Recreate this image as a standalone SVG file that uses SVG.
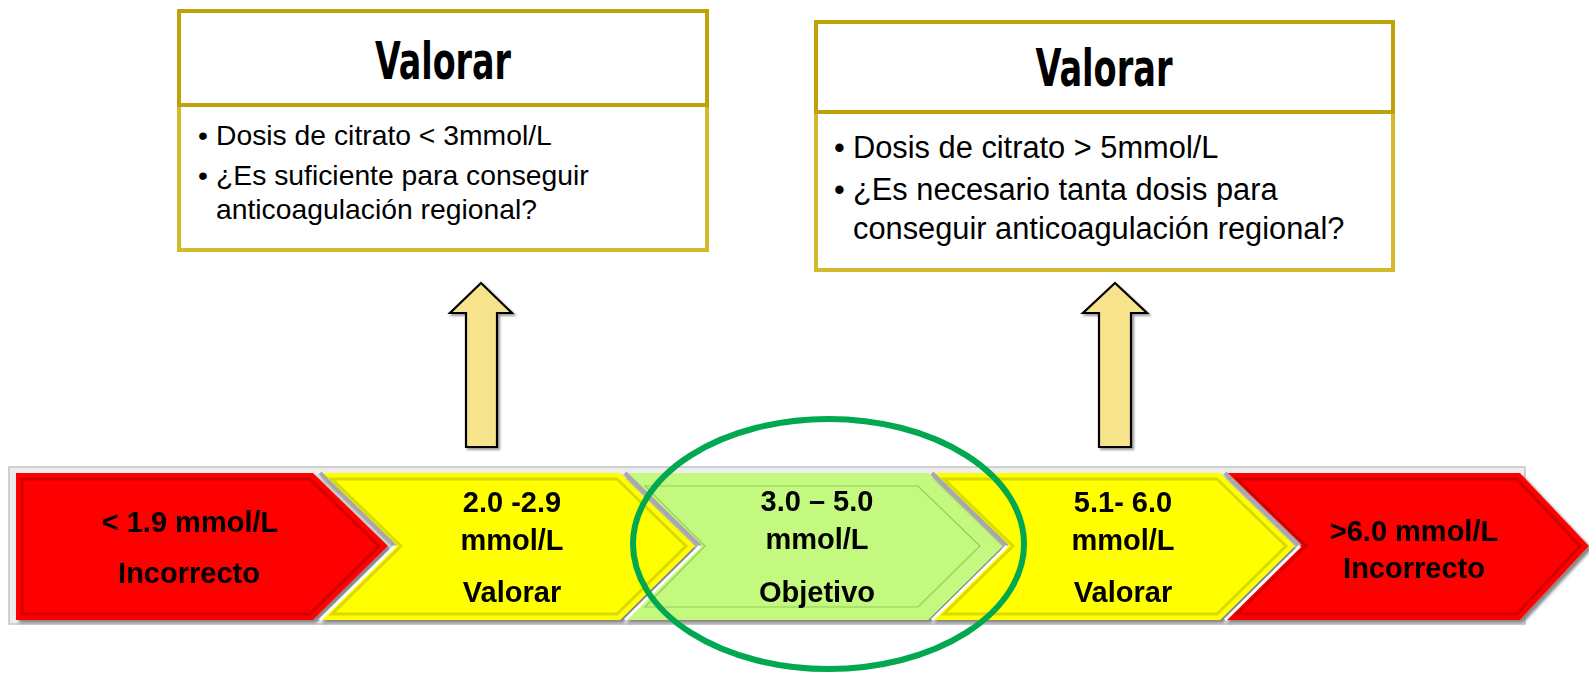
<svg xmlns="http://www.w3.org/2000/svg" width="1589" height="675" viewBox="0 0 1589 675">
<defs>
<filter id="sh" x="-5%" y="-10%" width="115%" height="125%">
<feDropShadow dx="3" dy="3" stdDeviation="1.5" flood-color="#7a7a7a" flood-opacity="0.9"/>
</filter>
<filter id="ash" x="-20%" y="-5%" width="150%" height="115%">
<feDropShadow dx="2" dy="2" stdDeviation="1.2" flood-color="#555" flood-opacity="0.6"/>
</filter>
<style>
.title{font-family:"Liberation Sans Narrow","DejaVu Sans Condensed","Liberation Sans",sans-serif;font-weight:bold;font-size:51px;fill:#000;text-anchor:middle}
.body1{font-family:"Liberation Sans","Open Sans",sans-serif;font-size:28.3px;fill:#000}
.body2{font-family:"Liberation Sans","Open Sans",sans-serif;font-size:30.8px;fill:#000}
.lab{font-family:"Liberation Sans",Arial,sans-serif;font-weight:bold;font-size:29px;fill:#000;text-anchor:middle}
.hdr{fill:#fff;stroke:#BFA10A;stroke-width:4}
.bod{fill:#fff;stroke:#D3BA2C;stroke-width:4}
.red{fill:#FF0000}
.yel{fill:#FFFF00}
.grn{fill:#C3F97E}
.bvR{fill:none;stroke:#B00000;stroke-width:3;stroke-opacity:0.55}
.bvY{fill:none;stroke:#B5B500;stroke-width:3;stroke-opacity:0.5}
.bvG{fill:none;stroke:#8CBF55;stroke-width:1.2;stroke-opacity:0.8}
.hiW{stroke:#fff;stroke-width:3;fill:none}
.hiG{stroke:#A8A8A8;stroke-width:4;fill:none}
.arr{fill:#F6E38C;stroke:#000;stroke-width:2.2;stroke-linejoin:miter}
</style>
</defs>
<rect width="1589" height="675" fill="#fff"/>

<!-- band frame -->
<rect x="9" y="467" width="1516" height="157" fill="#EDEDED" stroke="#C4C4C4" stroke-width="1.5"/>

<g id="seg-red1" filter="url(#sh)">
<polygon class="red" points="16,473 313,473 388,546 313,620 16,620"/>
<polygon class="bvR" points="22,479 310,479 379,546 310,614 22,614"/>
<text class="lab" x="190" y="532">&lt; 1.9 mmol/L</text>
<text class="lab" x="189" y="583">Incorrecto</text>
</g>

<g id="seg-yellow1" filter="url(#sh)">
<polygon class="yel" points="320,473 620,473 695,546 620,620 320,620 395,546"/>
<polygon class="bvY" points="332,479 617,479 686,546 617,614 332,614 401,546"/>
<line class="hiG" x1="320" y1="473" x2="395" y2="546"/>
<line class="hiW" x1="320" y1="620" x2="395" y2="546"/>
<text class="lab" x="512" y="512">2.0 -2.9</text>
<text class="lab" x="512" y="550">mmol/L</text>
<text class="lab" x="512" y="602">Valorar</text>
</g>

<g id="seg-green" filter="url(#sh)">
<polygon class="grn" points="625,473 928,473 1003,546 928,620 625,620 700,546"/>
<polygon class="bvG" points="645,486 918,486 980,546 918,607 645,607 705,546"/>
<line class="hiG" x1="625" y1="473" x2="700" y2="546"/>
<line class="hiW" x1="625" y1="620" x2="700" y2="546"/>
<text class="lab" x="817" y="511">3.0 – 5.0</text>
<text class="lab" x="817" y="549">mmol/L</text>
<text class="lab" x="817" y="602">Objetivo</text>
</g>

<g id="seg-yellow2" filter="url(#sh)">
<polygon class="yel" points="932,473 1220,473 1295,546 1220,620 932,620 1007,546"/>
<polygon class="bvY" points="944,479 1217,479 1286,546 1217,614 944,614 1013,546"/>
<line class="hiG" x1="932" y1="473" x2="1007" y2="546"/>
<line class="hiW" x1="932" y1="620" x2="1007" y2="546"/>
<text class="lab" x="1123" y="512">5.1- 6.0</text>
<text class="lab" x="1123" y="550">mmol/L</text>
<text class="lab" x="1123" y="602">Valorar</text>
</g>

<g id="seg-red2" filter="url(#sh)">
<polygon class="red" points="1225,473 1520,473 1589,546 1520,620 1225,620 1300,546"/>
<polygon class="bvR" points="1237,479 1517,479 1580,546 1517,614 1237,614 1306,546"/>
<line class="hiG" x1="1225" y1="473" x2="1300" y2="546"/>
<line class="hiW" x1="1225" y1="620" x2="1300" y2="546"/>
<text class="lab" x="1414" y="541">&gt;6.0 mmol/L</text>
<text class="lab" x="1414" y="578">Incorrecto</text>
</g>

<g id="target-ellipse">
<ellipse cx="828.5" cy="544" rx="195.5" ry="125" fill="none" stroke="#00A84F" stroke-width="6"/>
</g>

<g id="box-left">
<rect class="bod" x="179" y="105" width="528" height="145"/>
<rect class="hdr" x="179" y="11" width="528" height="94"/>
<text class="title" x="443" y="79" textLength="136" lengthAdjust="spacingAndGlyphs">Valorar</text>
<text class="body1" x="198" y="145">•</text>
<text class="body1" x="216" y="145">Dosis de citrato &lt; 3mmol/L</text>
<text class="body1" x="198" y="185">•</text>
<text class="body1" x="216" y="185">¿Es suficiente para conseguir</text>
<text class="body1" x="216" y="219">anticoagulación regional?</text>
</g>

<g id="box-right">
<rect class="bod" x="816" y="112" width="577" height="158"/>
<rect class="hdr" x="816" y="22" width="577" height="90"/>
<text class="title" x="1104" y="86" textLength="137" lengthAdjust="spacingAndGlyphs">Valorar</text>
<text class="body2" x="834" y="158">•</text>
<text class="body2" x="853" y="158">Dosis de citrato &gt; 5mmol/L</text>
<text class="body2" x="834" y="200">•</text>
<text class="body2" x="853" y="200">¿Es necesario tanta dosis para</text>
<text class="body2" x="853" y="239">conseguir anticoagulación regional?</text>
</g>

<g id="connectors" filter="url(#ash)">
<polygon class="arr" points="481,283 512,313 497,313 497,447 466,447 466,313 450,313"/>
<polygon class="arr" points="1115,283 1147,313 1131,313 1131,447 1099,447 1099,313 1083,313"/>
</g>
</svg>
